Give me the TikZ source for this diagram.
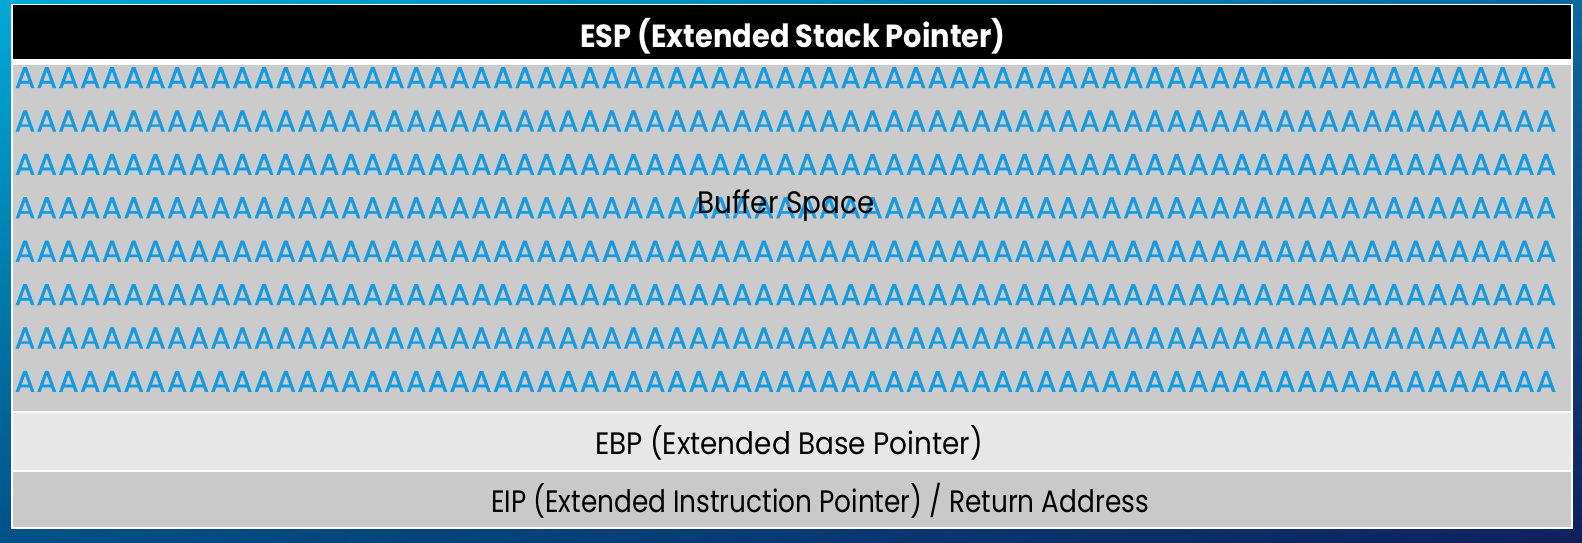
\documentclass[tikz,border=0pt]{standalone}
\usepackage{fontspec}
\setmainfont{Poppins}
\newfontfamily\rowfont{Poppins}[FakeBold=1.2]
\newfontfamily\lblfont{Poppins}[FakeStretch=0.90]
\newfontfamily\narrowfont{Poppins}[FakeStretch=0.85]
\usepackage{xcolor}
\usetikzlibrary{positioning, shadings}

\definecolor{bgtl}{RGB}{0,170,215}
\definecolor{bgtr}{RGB}{12,105,160}
\definecolor{bgbl}{RGB}{0,80,135}
\definecolor{bgbr}{RGB}{16,32,92}
\definecolor{bufgrey}{RGB}{203,203,203}
\definecolor{ebpgrey}{RGB}{231,231,231}
\definecolor{eipgrey}{RGB}{201,201,201}
\definecolor{ablue}{RGB}{16,155,228}

\newcommand{\Abox}{\makebox[21.73pt][c]{A}}
\newcommand{\Arow}{\foreach \k in {1,...,71}{\Abox}}

\begin{document}
\begin{tikzpicture}[x=1pt, y=-1pt,
  rowtext/.style={inner sep=0pt, text=ablue, font=\rowfont\fontsize{30}{30}\selectfont},
  lbl/.style={inner sep=0pt, font=\lblfont\fontsize{31}{31}\selectfont}]
  \useasboundingbox (0,0) rectangle (1582,543);
  \shade[upper left=bgtl, upper right=bgtr, lower left=bgbl, lower right=bgbr] (0,0) rectangle (1582,543);
  % frame and the four rows of the stack
  \fill[white] (11,4) rectangle (1573,529);
  \fill[black] (12.7,5) rectangle (1571.3,59);
  \fill[bufgrey] (12.7,65) rectangle (1571.3,411);
  \fill[ebpgrey] (12.7,413) rectangle (1571.3,469.5);
  \fill[eipgrey] (12.7,471.5) rectangle (1571.3,527);
  % buffer filled with A
  \foreach \r in {1,...,8}
    \node[rowtext, anchor=base west] (row\r) at (14, 88+43.4*\r-43.4) {\Arow};
  \node[lbl, text=white, font=\lblfont\bfseries\fontsize{32}{32}\selectfont, anchor=base] (esp) at (793,48) {ESP (Extended Stack Pointer)};
  \node[lbl, anchor=base] (buf) at (786,213) {Buffer Space};
  \node[lbl, anchor=base] (ebp) at (789,454) {EBP (Extended Base Pointer)};
  \node[lbl, font=\narrowfont\fontsize{31}{31}\selectfont, anchor=base] (eip) at (820,512) {EIP (Extended Instruction Pointer) / Return Address};
\end{tikzpicture}
\end{document}
